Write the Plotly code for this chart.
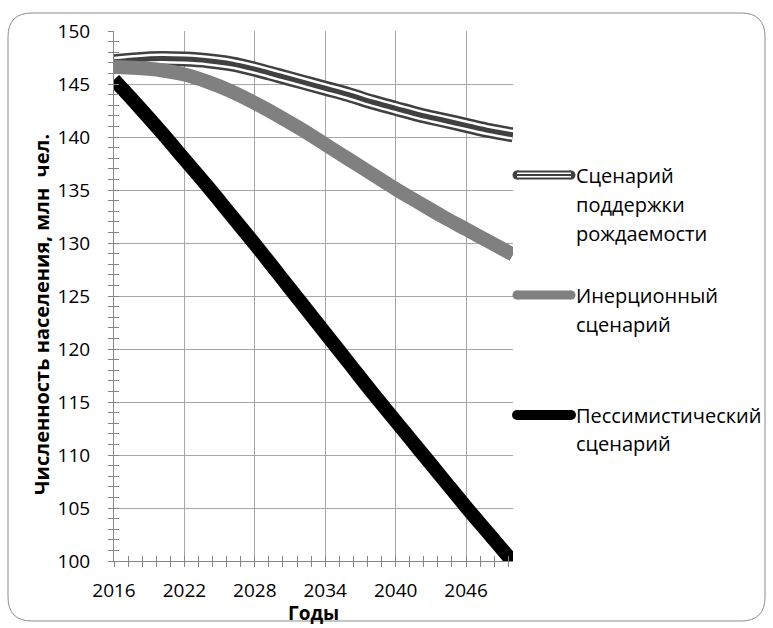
import plotly.graph_objects as go

years = [2016, 2018, 2020, 2022, 2024, 2026, 2028, 2030, 2032, 2034,
         2036, 2038, 2040, 2042, 2044, 2046, 2048, 2050]
support = [147.1, 147.3, 147.4, 147.35, 147.2, 146.9, 146.4, 145.8, 145.2, 144.6,
           144.0, 143.3, 142.7, 142.1, 141.6, 141.1, 140.6, 140.2]
inertial = [146.6, 146.5, 146.3, 145.9, 145.2, 144.3, 143.2, 142.0, 140.7, 139.3,
            137.9, 136.5, 135.1, 133.8, 132.5, 131.3, 130.1, 128.9]
pessimistic = [145.4, 143.0, 140.5, 137.9, 135.3, 132.6, 129.9, 127.1, 124.3, 121.5,
               118.7, 115.9, 113.2, 110.5, 107.8, 105.1, 102.5, 99.9]

series_names = [["Сценарий", "поддержки", "рождаемости"],
                ["Инерционный", "сценарий"],
                ["Пессимистический", "сценарий"]]
x_title = "Годы"
y_title = "Численность населения, млн  чел."

W, H = 773, 628
L, T, PW, PH = 114, 31, 399, 530
FONT = "Open Sans, sans-serif"
FS = 19
DARK = "#404040"
GRAY = "#808080"
GRID = "#a6a6a6"
AXIS = "#868686"


def px(x):
    return (x - L) / PW


def py(y):
    return (T + PH - y) / PH


fig = go.Figure()

# Support scenario: triple compound line (thin-thick-thin)
for color, w in [(DARK, 15), ("white", 10), (DARK, 5)]:
    fig.add_trace(go.Scatter(x=years, y=support, mode="lines",
                             line=dict(color=color, width=w, shape="spline"),
                             showlegend=False, hoverinfo="skip"))
fig.add_trace(go.Scatter(x=years, y=inertial, mode="lines", line=dict(color=GRAY, width=14, shape="spline"),
                         showlegend=False, hoverinfo="skip"))
fig.add_trace(go.Scatter(x=years, y=pessimistic, mode="lines", line=dict(color="black", width=14, shape="spline"),
                         showlegend=False, hoverinfo="skip"))
# dummy trace for overlay axes (inside half of cross ticks)
fig.add_trace(go.Scatter(x=[2016], y=[100], xaxis="x2", yaxis="y2", mode="markers",
                         marker=dict(opacity=0), showlegend=False, hoverinfo="skip"))

common_tick = dict(tickcolor=AXIS, ticklen=5, tickwidth=1)

fig.update_layout(
    width=W, height=H,
    margin=dict(l=L, r=W - L - PW, t=T, b=H - T - PH),
    paper_bgcolor="white", plot_bgcolor="white",
    font=dict(family=FONT, size=FS, color="black"),
    showlegend=False,
    xaxis=dict(range=[2016, 2050], tick0=2016, dtick=6, ticks="outside", **common_tick,
               showgrid=True, gridcolor=GRID, gridwidth=1,
               showline=True, linecolor=AXIS, linewidth=1, zeroline=False,
               minor=dict(tick0=2016, dtick=1.2, ticks="outside", ticklen=5, tickcolor=AXIS, showgrid=False),
               tickfont=dict(family=FONT, size=FS, color="black"), ticklabelstandoff=7),
    yaxis=dict(range=[100, 150], tick0=100, dtick=5, ticks="outside", **common_tick,
               showgrid=True, gridcolor=GRID, gridwidth=1,
               showline=True, linecolor=AXIS, linewidth=1, zeroline=False,
               minor=dict(tick0=100, dtick=1, ticks="outside", ticklen=5, tickcolor=AXIS, showgrid=False),
               tickfont=dict(family=FONT, size=FS, color="black"), ticklabelstandoff=14),
    xaxis2=dict(range=[2016, 2050], overlaying="x", anchor="y", tick0=2016, dtick=6, ticks="inside",
                **common_tick, showgrid=False, showline=False, showticklabels=False, zeroline=False,
                minor=dict(tick0=2016, dtick=1.2, ticks="inside", ticklen=5, tickcolor=AXIS, showgrid=False)),
    yaxis2=dict(range=[100, 150], overlaying="y", anchor="x", tick0=100, dtick=5, ticks="inside",
                **common_tick, showgrid=False, showline=False, showticklabels=False, zeroline=False,
                minor=dict(tick0=100, dtick=1, ticks="inside", ticklen=5, tickcolor=AXIS, showgrid=False)),
)

# Rounded chart-area border
x0, y0, x1, y1, r = 8, 13, 765, 621, 24


def P(x, y):
    return f"{px(x):.5f},{py(y):.5f}"


path = (f"M {P(x0 + r, y0)} L {P(x1 - r, y0)} Q {P(x1, y0)} {P(x1, y0 + r)} "
        f"L {P(x1, y1 - r)} Q {P(x1, y1)} {P(x1 - r, y1)} L {P(x0 + r, y1)} "
        f"Q {P(x0, y1)} {P(x0, y1 - r)} L {P(x0, y0 + r)} Q {P(x0, y0)} {P(x0 + r, y0)} Z")
fig.add_shape(type="path", path=path, xref="paper", yref="paper",
              line=dict(color="#8c8c8c", width=1), layer="below")

# Axis titles
fig.add_annotation(text=f"<b>{x_title}</b>", xref="paper", yref="paper", x=px(313), y=py(613),
                   showarrow=False, xanchor="center", yanchor="middle", font=dict(size=FS))
fig.add_annotation(text=f"<b>{y_title}</b>", xref="paper", yref="paper", x=px(41), y=py(315),
                   showarrow=False, textangle=-90, xanchor="center", yanchor="middle", font=dict(size=20))

# Manual legend
LFS = 20
sym_x0, sym_x1, text_x = 517, 571, 574
legend_y = [175, 295, 415]
line_gap = 29
styles = [[(DARK, 9), ("white", 5), (DARK, 2)], [(GRAY, 9)], [("black", 10)]]
for names, ly, st in zip(series_names, legend_y, styles):
    for color, w in st:
        fig.add_shape(type="line", xref="paper", yref="paper", x0=px(sym_x0), x1=px(sym_x1),
                      y0=py(ly), y1=py(ly), line=dict(color=color, width=w))
        if color != "white" and w > 3:
            for cx in (sym_x0, sym_x1):
                rr = w / 2
                fig.add_shape(type="circle", xref="paper", yref="paper",
                              x0=px(cx - rr), x1=px(cx + rr), y0=py(ly + rr), y1=py(ly - rr),
                              fillcolor=color, line=dict(width=0))
    for i, nm in enumerate(names):
        fig.add_annotation(text=nm, xref="paper", yref="paper", x=px(text_x), y=py(ly + i * line_gap),
                           showarrow=False, xanchor="left", yanchor="middle", font=dict(size=LFS))

fig.write_html("out.html", config={"displayModeBar": False},
               post_script="document.body.style.margin='0px';")
